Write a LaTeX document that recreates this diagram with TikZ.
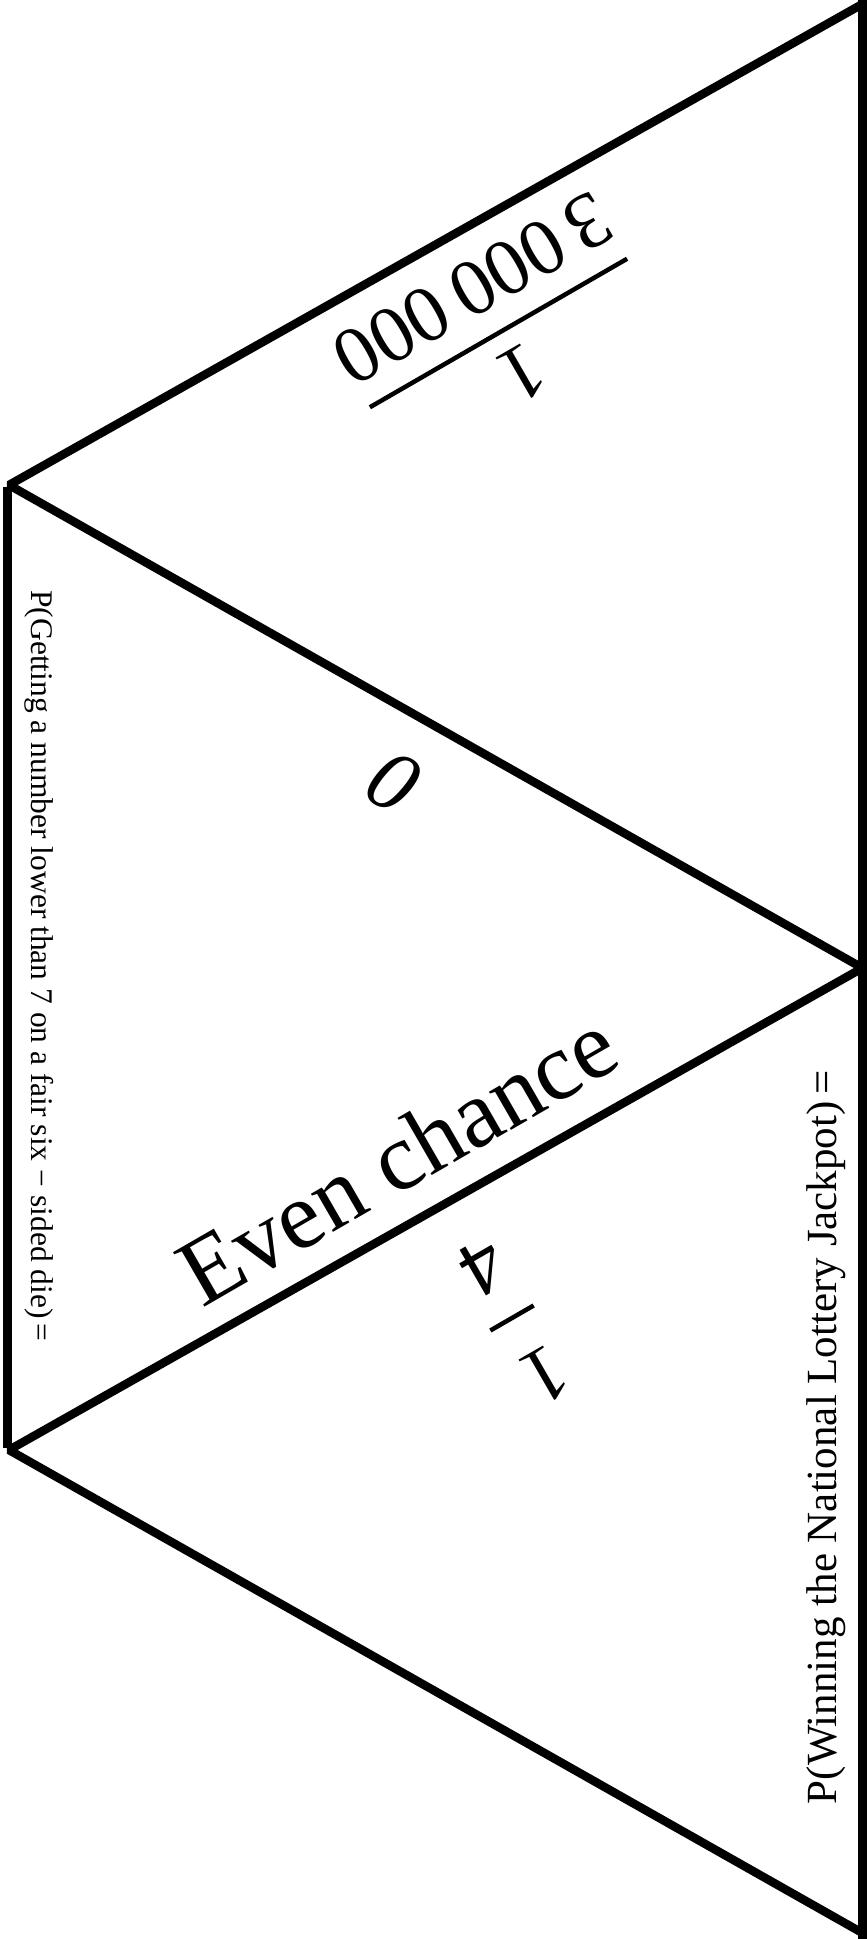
\documentclass[tikz,border=0pt]{standalone}
\usepackage{fontspec}
\setmainfont{Liberation Serif}
\newcommand\myfs[1]{\fontsize{#1}{#1}\selectfont}
\begin{document}
\begin{tikzpicture}[x=1pt,y=1pt,
  edge/.style={line width=8.5pt, line join=bevel},
  fracbar/.style={line width=4.5pt},
  lbl/.style={inner sep=0pt, outer sep=0pt}]
\useasboundingbox (0,0) rectangle (867,-1939);
% vertices of the zigzag
\coordinate (A) at (862.5,-4);
\coordinate (B) at (9,-485);
\coordinate (C) at (862.5,-968);
\coordinate (D) at (9,-1450);
\coordinate (E) at (862.5,-1933);
% vertical sides
\coordinate (RT) at (862.5,0);
\coordinate (RB) at (862.5,-1939);
\coordinate (LT) at (7.5,-487);
\coordinate (LB) at (7.5,-1448);
\draw[edge] (A) -- (B) -- (C) -- (D) -- (E);
\draw[edge] (RT) -- (RB);
\draw[edge] (LT) -- (LB);
% fraction 1 / 3 000 000 (upside down)
\begin{scope}[shift={(498.5,-333)}, rotate=210, transform shape]
  \coordinate (fa1) at (-148.5,0);
  \coordinate (fa2) at (148.5,0);
  \draw[fracbar] (fa1) -- (fa2);
  \node[lbl, font=\myfs{80}] (numA) at (0,47) {1};
  \node[lbl, font=\myfs{80}] (denA) at (0,-51.5) {3\,000\,000};
\end{scope}
% zero
\node[lbl, rotate=-30, font=\myfs{86}\itshape] (zero) at (393,-782) {0};
% even chance
\node[lbl, rotate=30, font=\myfs{96}] (even) at (397,-1158) {Even chance};
% fraction 1/4 (upside down)
\begin{scope}[shift={(512,-1318)}, rotate=210, transform shape]
  \coordinate (fb1) at (-25,0);
  \coordinate (fb2) at (25,0);
  \draw[fracbar] (fb1) -- (fb2);
  \node[lbl, font=\myfs{80}] (numB) at (0,66) {1};
  \node[lbl, font=\myfs{80}] (denB) at (0,-58) {4};
\end{scope}
% side questions
\node[lbl, rotate=-90, font=\myfs{31.5}] (qdie) at (39,-966)
  {P(Getting a number lower than 7 on a fair six − sided die)\,=};
\node[lbl, rotate=90, font=\myfs{43}] (qlot) at (826,-1437)
  {P(Winning the National Lottery Jackpot)\,=};
\end{tikzpicture}
\end{document}
